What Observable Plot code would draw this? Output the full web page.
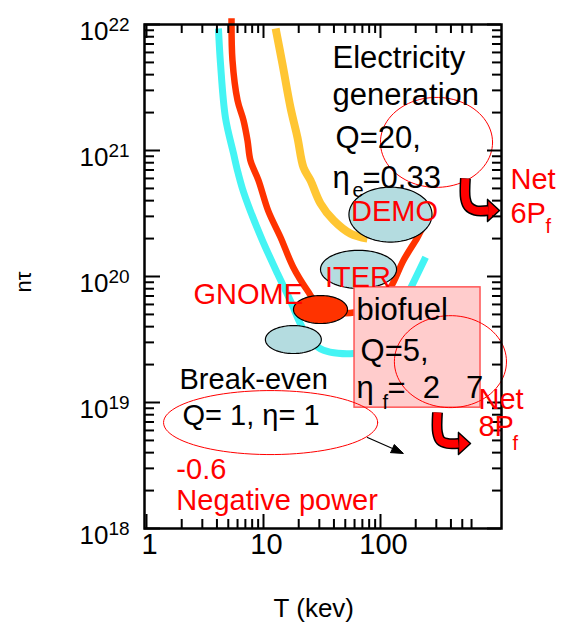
<!DOCTYPE html>
<html><head><meta charset="utf-8">
<script src="https://cdn.jsdelivr.net/npm/d3@7"></script>
<script src="https://cdn.jsdelivr.net/npm/@observablehq/plot@0.6"></script>
<style>body{margin:0;background:#fff} svg{display:block}</style>
</head><body><div id="chart"></div>
<script>
// ---------- axis ticks ----------
const xTickMajor = [1, 10, 100];
const xTickLabels = ["1", "10", "100"];
const xTickMinor = [2,3,4,5,6,7,8,9,20,30,40,50,60,70,80,90,200,300,400,500,600];
const yTickMajor = [1e18, 1e19, 1e20, 1e21, 1e22];
const yTickExp = ["18", "19", "20", "21", "22"];
const yDecades = [1e18, 1e19, 1e20, 1e21];
const yMinorMult = [2,3,4,5,6,7,8,9];

// ---------- curves (T in keV, n·tau) ----------
const cyanT = [4.12, 4.29, 4.73, 5.54, 6.0, 6.6, 7.74, 9.8, 13.2, 17.0, 20.7, 25.2, 32.6, 58.8, 90.6, 134, 180, 243];
const cyanN = [9.3e21, 4.9e21, 1.82e21, 9.5e20, 6.9e20, 5.0e20, 3.3e20, 1.93e20, 1.05e20, 6.4e19, 4.2e19, 3.1e19, 2.6e19, 2.45e19, 2.8e19, 4.5e19, 8.0e19, 1.42e20];
const redT = [5.33, 5.43, 6.0, 6.75, 7.3, 7.74, 9.06, 11.0, 14.0, 18.0, 23.8, 29.5, 41.2, 61.1, 90.6, 122, 157, 207, 229];
const redN = [1.12e22, 5.2e21, 2.5e21, 1.73e21, 1.2e21, 8.3e20, 5.8e20, 3.3e20, 2.04e20, 1.18e20, 7.7e19, 5.9e19, 5.2e19, 5.2e19, 5.9e19, 8.2e19, 1.34e20, 2.04e20, 2.45e20];
const orangeT = [12.7, 14.5, 17.0, 19.5, 22.0, 25.2, 30.7, 39.6, 55.4, 77.4];
const orangeN = [9.3e21, 4.9e21, 2.2e21, 1.27e21, 7.3e20, 5.8e20, 3.8e20, 2.8e20, 2.19e20, 2.0e20];

// ---------- machine ellipses (centre T, centre n·tau, half-widths in decades) ----------
const machineNames = ["DEMO", "ITER", "small"];
const machineT = [121.7, 64.9, 18.0];
const machineN = [3.1e20, 1.14e20, 3.16e19];
const machineRx = [0.355, 0.325, 0.239];
const machineRy = [0.218, 0.151, 0.111];
const gnomeT = [30.7], gnomeN = [5.47e19], gnomeRx = [0.231], gnomeRy = [0.111];
// red outline ellipses
const ringT = [301, 396, 11.5];
const ringN = [1.16e21, 2.11e19, 6.93e18];
const ringRx = [0.479, 0.479, 0.915];
const ringRy = [0.357, 0.365, 0.254];

// biofuel box
const boxT = [60, 716];
const boxN = [9.1e18, 8.2e19];

// bent arrows
const upShaftT = [532, 532, 565, 648, 838];
const upShaftN = [6.0e20, 4.16e20, 3.6e20, 3.34e20, 3.34e20];
const upHeadT = [822, 1040, 822, 822];
const upHeadN = [4.08e20, 3.34e20, 2.73e20, 4.08e20];
const loShaftT = [307, 307, 326, 374, 464];
const loShaftN = [8.33e18, 5.78e18, 4.99e18, 4.73e18, 4.73e18];
const loHeadT = [464, 588, 464, 464];
const loHeadN = [5.78e18, 4.73e18, 3.87e18, 5.78e18];
// thin arrow: shaft and filled head
const thinShaftT = [77.4, 126.7];
const thinShaftN = [5.27e18, 4.31e18];
const thinHeadT = [122.2, 157, 131.2, 122.2];
const thinHeadN = [4.0e18, 3.94e18, 4.64e18, 4.0e18];

// ---------- text annotations ----------
const blackText = ["Electricity", "generation", "Q=20,", "η", "=0.33", "biofuel", "Q=5,", "η", "=\u00a0\u00a02\u00a0\u00a0\u00a07"];
const blackT = [38.9, 38.9, 41.3, 38.9, 70.2, 62.3, 67.5, 62.3, 114.8];
const blackN = [4.48e21, 2.28e21, 1.04e21, 5.08e20, 5.08e20, 4.48e19, 2.15e19, 1.08e19, 1.08e19];
const blackSub = ["e", "f"];
const blackSubT = [57.6, 104];
const blackSubN = [4.24e20, 8.96e18];
const breakText = ["Break-even", "Q= 1, η= 1"];
const breakT = [1.915, 2.03];
const breakN = [1.27e19, 6.57e18];
const redLabels = ["GNOME", "-0.6", "Negative power", "Net", "6P", "Net", "8P"];
const redLabelT = [2.52, 1.80, 1.80, 1291, 1291, 688, 688];
const redLabelN = [6.1e19, 2.49e18, 1.39e18, 4.99e20, 2.68e20, 8.96e18, 5.47e18];
const redCenterLabels = ["DEMO", "ITER"];
const redCenterT = [131.8, 64.2];
const redCenterN = [2.78e20, 8.18e19];
const redSub = ["f", "f"];
const redSubT = [2570, 1343];
const redSubN = [2.23e20, 4.16e18];
const xAxisLabel = "T (kev)", xAxisLabelT = 12.2;
const yAxisLabel = "nτ", yAxisLabelN = 7.46e19;

// ---------- build ----------
const W = 563, H = 624;
const M = {top: 24, right: 62, bottom: 96, left: 144};
const plotW = W - M.left - M.right;
const plotH = H - M.top - M.bottom;
const FONT = "Liberation Sans, Arial, Helvetica, sans-serif";

const zip = (T, N) => T.map((t, i) => ({T: t, n: N[i]}));
function ellipses(T, N, RX, RY) {
  const out = [];
  T.forEach((cT, k) => {
    for (let i = 0; i <= 90; i++) {
      const a = i / 90 * 2 * Math.PI;
      out.push({id: k, T: 10 ** (Math.log10(cT) + RX[k] * Math.cos(a)), n: 10 ** (Math.log10(N[k]) + RY[k] * Math.sin(a))});
    }
  });
  return out;
}
const yTickMinor = yDecades.flatMap(d => yMinorMult.map(m => m * d));
const txt = (labels, T, N) => labels.map((s, i) => ({s, T: T[i], n: N[i]}));

const chart = Plot.plot({
  width: W, height: H,
  marginTop: M.top, marginRight: M.right, marginBottom: M.bottom, marginLeft: M.left,
  style: {fontFamily: FONT, background: "white", overflow: "visible"},
  x: {type: "log", domain: [0.9614, 1082], axis: null},
  y: {type: "log", domain: [1e18, 1e22], axis: null},
  marks: [
    // curves
    Plot.line(zip(orangeT, orangeN), {x: "T", y: "n", stroke: "#FFC633", strokeWidth: 8, curve: "catmull-rom", strokeLinecap: "butt"}),
    Plot.line(zip(cyanT, cyanN), {x: "T", y: "n", stroke: "#44F4F4", strokeWidth: 7, curve: "catmull-rom", strokeLinecap: "butt"}),
    Plot.line(zip(redT, redN), {x: "T", y: "n", stroke: "#FF3300", strokeWidth: 6.5, curve: "catmull-rom", strokeLinecap: "butt"}),
    // machine ellipses
    Plot.line(ellipses(machineT, machineN, machineRx, machineRy), {x: "T", y: "n", z: "id", fill: "#B4DCE0", stroke: "black", strokeWidth: 1.2, curve: "linear"}),
    Plot.line(ellipses(gnomeT, gnomeN, gnomeRx, gnomeRy), {x: "T", y: "n", z: "id", fill: "#FF3300", stroke: "black", strokeWidth: 1.2, curve: "linear"}),
    // biofuel box
    Plot.rect([0], {x1: () => boxT[0], x2: () => boxT[1], y1: () => boxN[0], y2: () => boxN[1], fill: "#FFCCCC", stroke: "#FF5555", strokeWidth: 1.5}),
    // red rings
    Plot.line(ellipses(ringT, ringN, ringRx, ringRy), {x: "T", y: "n", z: "id", stroke: "#FF0000", strokeWidth: 1, curve: "linear"}),
    // bent arrows
    Plot.line(zip(upShaftT, upShaftN), {x: "T", y: "n", stroke: "black", strokeWidth: 11, curve: "catmull-rom", strokeLinecap: "butt"}),
    Plot.line(zip(loShaftT, loShaftN), {x: "T", y: "n", stroke: "black", strokeWidth: 11, curve: "catmull-rom", strokeLinecap: "butt"}),
    Plot.line(zip(upHeadT, upHeadN), {x: "T", y: "n", fill: "#FF0000", stroke: "black", strokeWidth: 1.5, curve: "linear"}),
    Plot.line(zip(loHeadT, loHeadN), {x: "T", y: "n", fill: "#FF0000", stroke: "black", strokeWidth: 1.5, curve: "linear"}),
    Plot.line(zip(upShaftT, upShaftN), {x: "T", y: "n", stroke: "#FF0000", strokeWidth: 8, curve: "catmull-rom", strokeLinecap: "butt"}),
    Plot.line(zip(loShaftT, loShaftN), {x: "T", y: "n", stroke: "#FF0000", strokeWidth: 8, curve: "catmull-rom", strokeLinecap: "butt"}),
    // thin arrow
    Plot.line(zip(thinShaftT, thinShaftN), {x: "T", y: "n", stroke: "black", strokeWidth: 1.2}),
    Plot.line(zip(thinHeadT, thinHeadN), {x: "T", y: "n", fill: "black", stroke: "black", strokeWidth: 1, curve: "linear"}),
    // frame and ticks
    Plot.frame({stroke: "black", strokeWidth: 2.5}),
    Plot.tickY(yTickMajor, {y: d => d, insetRight: plotW - 16, stroke: "black", strokeWidth: 2}),
    Plot.tickY(yTickMinor, {y: d => d, insetRight: plotW - 10, stroke: "black", strokeWidth: 2}),
    Plot.tickY(yTickMajor, {y: d => d, insetLeft: plotW - 14, stroke: "black", strokeWidth: 2}),
    Plot.tickY(yTickMinor, {y: d => d, insetLeft: plotW - 9, stroke: "black", strokeWidth: 2}),
    Plot.tickX(xTickMajor, {x: d => d, insetBottom: plotH - 14, stroke: "black", strokeWidth: 2}),
    Plot.tickX(xTickMinor, {x: d => d, insetBottom: plotH - 9, stroke: "black", strokeWidth: 2}),
    Plot.tickX(xTickMajor, {x: d => d, insetTop: plotH - 14, stroke: "black", strokeWidth: 2}),
    Plot.tickX(xTickMinor, {x: d => d, insetTop: plotH - 9, stroke: "black", strokeWidth: 2}),
    // tick labels
    Plot.text(yTickMajor, {y: d => d, frameAnchor: "left", text: () => "10", textAnchor: "end", dx: -36, dy: 7, fontSize: 26, fill: "black"}),
    Plot.text(yTickMajor, {y: d => d, frameAnchor: "left", text: (d, i) => yTickExp[i], textAnchor: "start", dx: -36, dy: 0, fontSize: 19, fill: "black"}),
    Plot.text(xTickMajor, {x: d => d, frameAnchor: "bottom", text: (d, i) => xTickLabels[i], dy: 25, dx: 3, fontSize: 29, fill: "black"}),
    // axis labels
    Plot.text([xAxisLabel], {x: () => xAxisLabelT, frameAnchor: "bottom", text: d => d, textAnchor: "start", lineAnchor: "bottom", dy: 88, fontSize: 26, fill: "black"}),
    Plot.text([yAxisLabel], {y: () => yAxisLabelN, frameAnchor: "left", text: d => d, rotate: -90, dx: -121, fontSize: 22, fill: "black"}),
    // annotations
    Plot.text(txt(blackText, blackT, blackN), {x: "T", y: "n", text: "s", textAnchor: "start", lineAnchor: "bottom", fontSize: 31, fill: "black"}),
    Plot.text(txt(blackSub, blackSubT, blackSubN), {x: "T", y: "n", text: "s", textAnchor: "start", lineAnchor: "bottom", fontSize: 20, fill: "black"}),
    Plot.text(txt(breakText, breakT, breakN), {x: "T", y: "n", text: "s", textAnchor: "start", lineAnchor: "bottom", fontSize: 29, fill: "black"}),
    Plot.text(txt(redLabels, redLabelT, redLabelN), {x: "T", y: "n", text: "s", textAnchor: "start", lineAnchor: "bottom", fontSize: 29, fill: "#FF0000"}),
    Plot.text(txt(redCenterLabels, redCenterT, redCenterN), {x: "T", y: "n", text: "s", textAnchor: "middle", lineAnchor: "bottom", fontSize: 29, fill: "#FF0000"}),
    Plot.text(txt(redSub, redSubT, redSubN), {x: "T", y: "n", text: "s", textAnchor: "start", lineAnchor: "bottom", fontSize: 20, fill: "#FF0000"})
  ]
});
document.getElementById("chart").append(chart);
</script>
</body></html>
